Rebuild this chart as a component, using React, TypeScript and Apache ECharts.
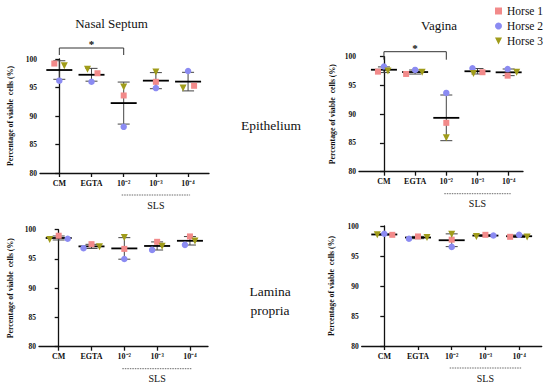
import React, { useEffect, useRef } from 'react';
import * as echarts from 'echarts';

// ---------- data ----------
const CATEGORIES = ['CM', 'EGTA', '10⁻²', '10⁻³', '10⁻⁴'];
const HORSES = ['Horse 1', 'Horse 2', 'Horse 3'];
const Y_TICKS = [80, 85, 90, 95, 100];
const COLUMN_TITLES = ['Nasal Septum', 'Vagina'];
const ROW_LABELS = ['Epithelium', 'Lamina\npropria'];
const GROUP_LABEL = 'SLS';
const Y_NAME = 'Percentage of viable  cells (%)';

// Nasal septum – epithelium
const NS_EPI_H1 = [99.2, 97.5, 93.6, 96.0, 95.3];
const NS_EPI_H2 = [96.2, 96.0, 88.1, 94.9, 97.9];
const NS_EPI_H3 = [98.8, 98.2, 95.1, 97.7, 94.9];
// Vagina – epithelium
const VA_EPI_H1 = [97.4, 97.0, 88.5, 97.3, 96.7];
const VA_EPI_H2 = [98.3, 97.7, 93.7, 98.0, 97.85];
const VA_EPI_H3 = [97.5, 97.3, 85.9, 97.1, 97.3];
// Nasal septum – lamina propria
const NS_LP_H1 = [98.97, 97.53, 96.72, 97.93, 98.85];
const NS_LP_H2 = [98.45, 96.84, 95.0, 96.55, 97.41];
const NS_LP_H3 = [98.33, 97.07, 98.68, 97.18, 98.05];
// Vagina – lamina propria
const VA_LP_H1 = [98.53, 98.26, 97.72, 98.53, 98.2];
const VA_LP_H2 = [98.7, 97.88, 96.52, 98.42, 98.53];
const VA_LP_H3 = [98.53, 98.1, 98.64, 98.26, 98.15];

const PANEL_DATA = [
  [NS_EPI_H1, NS_EPI_H2, NS_EPI_H3],
  [VA_EPI_H1, VA_EPI_H2, VA_EPI_H3],
  [NS_LP_H1, NS_LP_H2, NS_LP_H3],
  [VA_LP_H1, VA_LP_H2, VA_LP_H3],
];
const SIGNIFICANT = [true, true, false, false];

// ---------- styles / layout ----------
const SERIF = "'Liberation Serif', 'Times New Roman', serif";
const COLORS = ['#F28A8A', '#8B8BF2', '#A09C1A'];
const TRI_DOWN = 'path://M0,0 L10,0 L5,10 Z';
const SYMBOLS = ['rect', 'circle', TRI_DOWN];
const SYMBOL_SIZES = [6, 6.5, 7];

const LAYOUT = [
  {
    left: 40, top: 59, width: 169, height: 114, xMin: -0.6, xMax: 4.65, nameGap: 26,
    jitter: [[-5, 6, 0, 0, 6], [0, 0, 0, 0, 0], [5, -4, 0, 0, -5]],
    bracket: { y: -11, drop: 7 },
  },
  {
    left: 359, top: 56.7, width: 164, height: 115, xMin: -0.8, xMax: 4.46, nameGap: 23,
    jitter: [[-6, -9, 0, 5, -1], [0, 0, 0, -5, -1], [4, 7, 0, -4, 8]],
    bracket: { y: -5, drop: 8 },
  },
  {
    left: 39, top: 229.7, width: 169, height: 117, xMin: -0.6, xMax: 4.55, nameGap: 25,
    jitter: [[0, 0, 0, 0, 0], [9, -8, 0, -5, -5], [-9, 8, 0, 5, 5]],
    bracket: null,
  },
  {
    left: 361.7, top: 226, width: 180, height: 120, xMin: -0.67, xMax: 4.67, nameGap: 26,
    jitter: [[8, 0, 0, 0, -9], [0, -9, 0, 8, 0], [-7, 9, 0, -9, 8]],
    bracket: null,
  },
];

function meanSd(vals: number[]) {
  const m = vals.reduce((a, b) => a + b, 0) / vals.length;
  const v = vals.reduce((a, b) => a + (b - m) * (b - m), 0) / (vals.length - 1);
  return [m, Math.sqrt(v)];
}

function buildOption() {
  const grid: any[] = [];
  const xAxis: any[] = [];
  const yAxis: any[] = [];
  const series: any[] = [];
  const idx = CATEGORIES.map((_, i) => i);

  LAYOUT.forEach((L, k) => {
    grid.push({ left: L.left, top: L.top, width: L.width, height: L.height });
    xAxis.push({
      gridIndex: k,
      type: 'value',
      min: L.xMin,
      max: L.xMax,
      splitLine: { show: false },
      axisLine: { show: true, onZero: false, lineStyle: { color: '#111', width: 1.3 } },
      axisTick: { show: true, customValues: idx, length: 4, lineStyle: { color: '#111', width: 1.3 } },
      axisLabel: {
        customValues: idx,
        formatter: (v: number) => CATEGORIES[Math.round(v)],
        fontFamily: SERIF,
        fontWeight: 'bold',
        fontSize: 8,
        color: '#111',
        margin: 6,
      },
    });
    yAxis.push({
      gridIndex: k,
      type: 'value',
      min: 80,
      max: 100,
      interval: 5,
      splitLine: { show: false },
      axisLine: { show: true, lineStyle: { color: '#111', width: 1.3 } },
      axisTick: { show: true, length: 4, customValues: Y_TICKS, lineStyle: { color: '#111', width: 1.3 } },
      axisLabel: {
        customValues: Y_TICKS,
        fontFamily: SERIF,
        fontWeight: 'bold',
        fontSize: 7.5,
        color: '#111',
        margin: 3,
      },
      name: Y_NAME,
      nameLocation: 'middle',
      nameGap: L.nameGap,
      nameTextStyle: { fontFamily: SERIF, fontWeight: 'bold', fontSize: 7.8, color: '#111' },
    });

    const vals = PANEL_DATA[k];
    const stats = idx.map((i) => {
      const [m, s] = meanSd([vals[0][i], vals[1][i], vals[2][i]]);
      return [i, m, s];
    });

    // mean + SD
    series.push({
      type: 'custom',
      xAxisIndex: k,
      yAxisIndex: k,
      silent: true,
      z: 1,
      data: stats,
      encode: { x: 0, y: 1 },
      renderItem: (_p: any, api: any) => {
        const x = api.value(0);
        const m = api.value(1);
        const s = api.value(2);
        const c = api.coord([x, m]);
        const t = api.coord([x, m + s]);
        const b = api.coord([x, m - s]);
        const bar = { stroke: '#444', lineWidth: 1 };
        return {
          type: 'group',
          children: [
            { type: 'line', shape: { x1: c[0], y1: t[1], x2: c[0], y2: b[1] }, style: bar },
            { type: 'line', shape: { x1: c[0] - 6, y1: t[1], x2: c[0] + 6, y2: t[1] }, style: bar },
            { type: 'line', shape: { x1: c[0] - 6, y1: b[1], x2: c[0] + 6, y2: b[1] }, style: bar },
            { type: 'line', shape: { x1: c[0] - 13, y1: c[1], x2: c[0] + 13, y2: c[1] }, style: { stroke: '#000', lineWidth: 1.8 } },
          ],
        };
      },
    });

    // points
    HORSES.forEach((h, j) => {
      series.push({
        name: h,
        type: 'scatter',
        xAxisIndex: k,
        yAxisIndex: k,
        silent: true,
        z: 3,
        symbol: SYMBOLS[j],
        symbolSize: SYMBOL_SIZES[j],
        itemStyle: { color: COLORS[j], opacity: 1 },
        data: vals[j].map((v, i) => ({ value: [i, v], symbolOffset: [L.jitter[j][i], 0] })),
      });
    });

    // annotations: SLS group line/label, significance bracket
    const br = L.bracket;
    const sig = SIGNIFICANT[k];
    series.push({
      type: 'custom',
      xAxisIndex: k,
      yAxisIndex: k,
      silent: true,
      z: 2,
      data: [[2, 80]],
      encode: { x: 0, y: 1 },
      renderItem: (_p: any, api: any) => {
        const p2 = api.coord([2, 80]);
        const p3 = api.coord([3, 80]);
        const p4 = api.coord([4, 80]);
        const children: any[] = [
          {
            type: 'line',
            shape: { x1: p2[0] - 2, y1: p2[1] + 22, x2: p4[0] + 2, y2: p2[1] + 22 },
            style: { stroke: '#444', lineWidth: 0.8, lineDash: [1.5, 1] },
          },
          {
            type: 'text',
            style: {
              text: GROUP_LABEL,
              x: p3[0],
              y: p3[1] + 32,
              align: 'center',
              verticalAlign: 'middle',
              textAlign: 'center',
              textVerticalAlign: 'middle',
              fontFamily: SERIF,
              fontSize: 10,
              fill: '#111',
            },
          },
        ];
        if (sig && br) {
          const a = api.coord([0, 100]);
          const e = api.coord([2, 100]);
          const mid = api.coord([1, 100]);
          const yb = a[1] + br.y;
          children.push({
            type: 'polyline',
            shape: { points: [[a[0], yb + br.drop], [a[0], yb], [e[0], yb], [e[0], yb + br.drop]] },
            style: { stroke: '#333', lineWidth: 1, fill: null },
          });
          children.push({
            type: 'text',
            style: {
              text: '*',
              x: mid[0],
              y: yb - 4,
              align: 'center',
              verticalAlign: 'middle',
              textAlign: 'center',
              textVerticalAlign: 'middle',
              fontFamily: SERIF,
              fontWeight: 'bold',
              fontSize: 11,
              fill: '#111',
            },
          });
        }
        return { type: 'group', children };
      },
    });
  });

  const textStyle = (size: number) => ({
    fontFamily: SERIF,
    fontSize: size,
    fill: '#111',
    textAlign: 'center',
    textVerticalAlign: 'middle',
    align: 'center',
    verticalAlign: 'middle',
  });

  return {
    animation: false,
    backgroundColor: '#fff',
    grid,
    xAxis,
    yAxis,
    series,
    legend: {
      orient: 'vertical',
      left: 495,
      top: 5,
      padding: 0,
      itemWidth: 7,
      itemHeight: 7,
      itemGap: 3,
      selectedMode: false,
      textStyle: { fontFamily: SERIF, fontSize: 11.5, color: '#111' },
      data: HORSES.map((h, j) => ({ name: h, icon: SYMBOLS[j] })),
    },
    graphic: [
      { type: 'text', x: 111.5, y: 23, style: { text: COLUMN_TITLES[0], ...textStyle(13) } },
      { type: 'text', x: 439, y: 25, style: { text: COLUMN_TITLES[1], ...textStyle(13) } },
      { type: 'text', x: 271, y: 125, style: { text: ROW_LABELS[0], ...textStyle(13.5) } },
      { type: 'text', x: 270, y: 301, style: { text: ROW_LABELS[1], lineHeight: 19, ...textStyle(13.5) } },
    ],
  };
}

export default function App() {
  const ref = useRef<HTMLDivElement>(null);
  useEffect(() => {
    document.body.style.margin = '0';
    if (!ref.current) return;
    const chart = echarts.init(ref.current, null, { renderer: 'svg' });
    chart.setOption(buildOption() as any);
    return () => chart.dispose();
  }, []);
  return <div ref={ref} style={{ width: 550, height: 387, background: '#fff' }} />;
}
